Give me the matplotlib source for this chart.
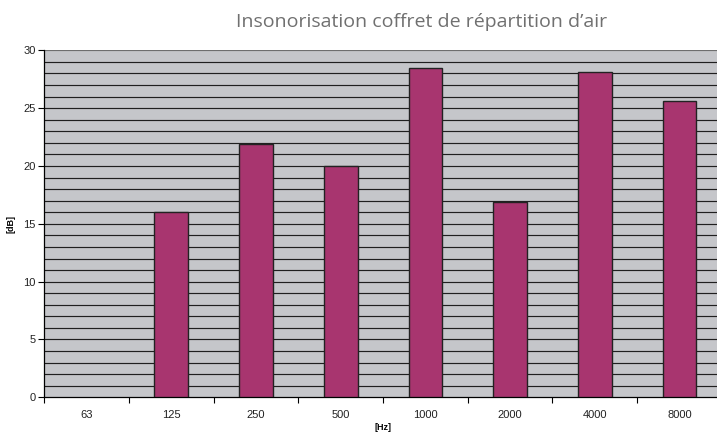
import matplotlib.pyplot as plt
import numpy as np

freqs = ["63", "125", "250", "500", "1000", "2000", "4000", "8000"]
levels = [0, 16.0, 21.9, 20.0, 28.5, 16.9, 28.1, 25.6]

fig = plt.figure(figsize=(7.17, 4.32), dpi=100)
ax = fig.add_axes([44.3 / 717, 1 - 397.3 / 432, 677.6 / 717, 347 / 432])
ax.set_facecolor('#C5C6CA')

x = np.arange(len(freqs))
# an empty value shows no outline at all
edge_w = [1.0 if v > 0 else 0 for v in levels]
ax.bar(x, levels, width=0.4, color='#A8356F', edgecolor='#222222', linewidth=edge_w, zorder=3)

ax.set_xlim(-0.5, len(freqs) - 0.5)
ax.set_ylim(0, 30)

# horizontal grid every 1 dB
for yv in range(1, 31):
    ax.axhline(yv, color='#6e6e6e' if yv == 30 else '#1f1f1f', linewidth=0.85, zorder=1)

ax.set_yticks(range(0, 31, 5))
ax.set_xticks(x)
ax.set_xticklabels(freqs)
ax.set_xticks(np.arange(-0.5, len(freqs), 1), minor=True)
ax.tick_params(axis='x', which='major', length=0, pad=9, labelsize=8, labelcolor='#222222')
ax.tick_params(axis='x', which='minor', length=4, width=0.8, direction='out')
ax.tick_params(axis='y', length=4, width=0.8, direction='out', labelsize=8, pad=2, labelcolor='#222222')
for lbl in ax.get_xticklabels() + ax.get_yticklabels():
    lbl.set_family('Liberation Sans')

for s in ['top', 'right']:
    ax.spines[s].set_visible(False)
ax.spines['left'].set_linewidth(0.9)
ax.spines['bottom'].set_linewidth(0.9)

ax.set_ylabel('[dB]', fontsize=6.5, fontweight='bold', family='Liberation Sans', labelpad=6)
ax.set_xlabel('[Hz]', fontsize=6.5, fontweight='bold', family='Liberation Sans', labelpad=2)

# title sits right of centre in the original
fig.text(0.588, 0.949, "Insonorisation coffret de répartition d\u2019air",
         ha='center', va='center', fontsize=14, color='#707070', family='Open Sans')

fig.savefig('out.png', dpi=100)
